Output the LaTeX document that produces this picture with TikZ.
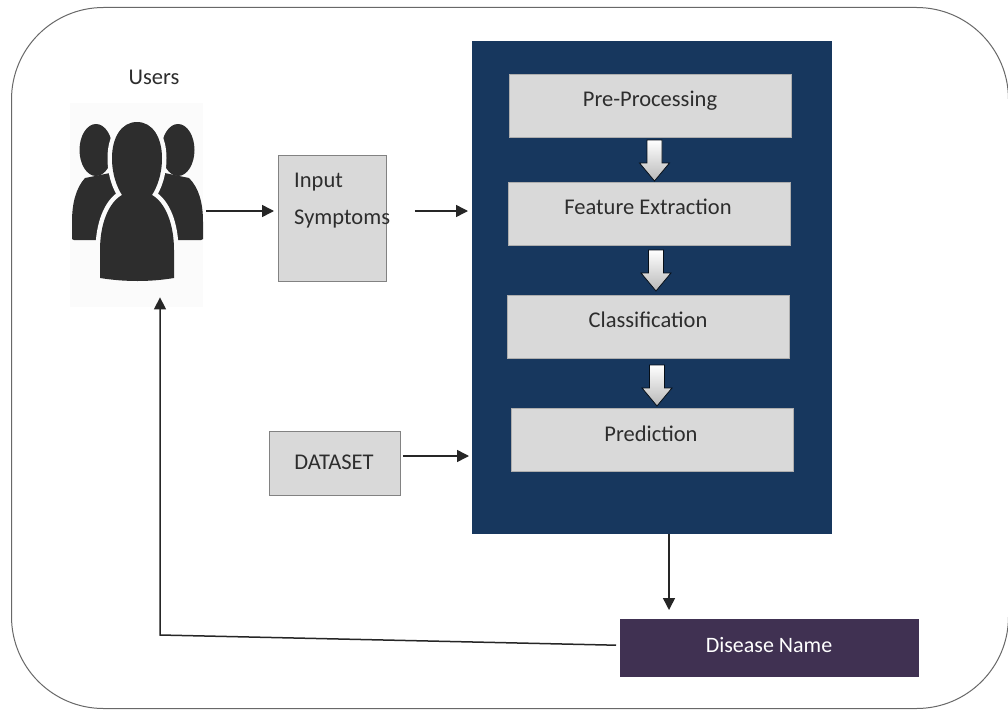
\documentclass[tikz,border=0pt]{standalone}
\usepackage{fontspec}
\setmainfont{Carlito}
\usetikzlibrary{arrows.meta}
\definecolor{navy}{RGB}{23,55,94}
\definecolor{boxgray}{RGB}{217,217,217}
\definecolor{plum}{RGB}{64,49,82}
\definecolor{ink}{RGB}{45,45,45}
\definecolor{edge}{RGB}{130,130,130}
\newcommand{\downarrowshape}[2]{\path[draw=black!75!navy,line width=.8pt,top color=white,bottom color=boxgray!85!black]
  (#1-7.5,#2) -- (#1+7.5,#2) -- (#1+7.5,#2+23) -- (#1+15,#2+23) -- (#1,#2+41) -- (#1-15,#2+23) -- (#1-7.5,#2+23) -- cycle;}
\tikzset{
  stagebox/.style={rectangle,fill=boxgray,draw=boxgray!80!black,line width=.5pt,minimum width=282pt,minimum height=63pt,inner sep=0pt},
  sidebox/.style={rectangle,fill=boxgray,draw=edge,line width=.8pt,inner sep=0pt},
  txt/.style={inner sep=0pt,font=\fontsize{22.5}{26}\selectfont,text=ink},
  conn/.style={draw=black!85,line width=1.5pt,-{Triangle[length=12pt,width=12pt]}},
  person/.style={fill=ink,draw=none}
}
\begin{document}
\begin{tikzpicture}[x=1pt,y=-1pt]
\useasboundingbox (0,0) rectangle (1008,709);
\fill[white] (0,0) rectangle (1008,709);
\node[draw=edge!80!black,line width=1pt,rounded corners=92pt,minimum width=997pt,minimum height=701pt,inner sep=0pt,anchor=north west] (frame) at (11,7) {};
\node[txt] (userslabel) at (154,77) {Users};
% icon
\node[fill=black!1.5,minimum width=133pt,minimum height=204pt,inner sep=0pt,anchor=north west] (users) at (70,103) {};
\fill[person] (96,150) ellipse (16.5 and 26);
\fill[person] (178,150) ellipse (16.5 and 26);
\fill[person] (72,239) -- (72,222) .. controls (72,203) and (76,188) .. (85,178) -- (125,170) -- (125,240) -- (74,240) -- cycle;
\fill[person] (203,239) -- (203,222) .. controls (203,203) and (199,188) .. (189,178) -- (150,170) -- (150,240) -- (201,240) -- cycle;
\path[fill=ink,draw=black!1.5,line width=9pt,line join=round]
  (137,122) .. controls (121,122) and (112,138) .. (112,158)
  .. controls (112,175) and (117,187) .. (122,195)
  .. controls (108,203) and (100,225) .. (100,250)
  -- (100,278) .. controls (125,282) and (150,282) .. (174,278)
  -- (174,250) .. controls (174,225) and (166,203) .. (152,195)
  .. controls (157,187) and (162,175) .. (162,158)
  .. controls (162,138) and (153,122) .. (137,122) -- cycle;
\path[fill=ink]
  (137,122) .. controls (121,122) and (112,138) .. (112,158)
  .. controls (112,175) and (117,187) .. (122,195)
  .. controls (108,203) and (100,225) .. (100,250)
  -- (100,278) .. controls (125,282) and (150,282) .. (174,278)
  -- (174,250) .. controls (174,225) and (166,203) .. (152,195)
  .. controls (157,187) and (162,175) .. (162,158)
  .. controls (162,138) and (153,122) .. (137,122) -- cycle;
% boxes
\node[sidebox,minimum width=108pt,minimum height=126pt,anchor=north west] (input) at (278,155) {};
\node[txt,anchor=west] (inputone) at (294,182) {Input};
\node[txt,anchor=west] (inputtwo) at (294,219) {Symptoms};
\node[sidebox,minimum width=131pt,minimum height=64pt,anchor=north west] (dataset) at (269,431) {};
\node[txt] (datasetlabel) at (334,462) {DATASET};
\node[fill=navy,minimum width=360pt,minimum height=493pt,inner sep=0pt,anchor=north west] (panel) at (472,41) {};
\node[stagebox,anchor=north west] (pre) at (509,74) {};
\node[stagebox,anchor=north west] (feat) at (508,182) {};
\node[stagebox,anchor=north west] (cls) at (507,295) {};
\node[stagebox,anchor=north west] (pred) at (511,408) {};
\node[txt] (pretext) at (650,101) {Pre-Processing};
\node[txt] (feattext) at (648,207) {Feature Extraction};
\node[txt] (clstext) at (648,320) {Classification};
\node[txt] (predtext) at (651,434) {Prediction};
\downarrowshape{654.5}{140}
\downarrowshape{656}{250}
\downarrowshape{657}{365}
\node[fill=plum,minimum width=299pt,minimum height=58pt,inner sep=0pt,anchor=north west] (disease) at (620,619) {};
\node[txt,text=white,font=\fontsize{22}{26}\selectfont] (diseasetext) at (769,645) {Disease Name};
% connectors
\coordinate (bend) at (160,635);
\draw[conn] ([xshift=3pt]users.east |- 0,211) -- ([xshift=-4pt]input.west |- 0,211);
\draw[conn] ([xshift=28pt]input.east |- 0,211) -- ([xshift=-4pt]panel.west |- 0,211);
\draw[conn] ([xshift=2pt]dataset.east |- 0,456) -- ([xshift=-3pt]panel.west |- 0,456);
\draw[conn] (panel.south -| 669,0) -- ([yshift=9pt]disease.north -| 669,0);
\draw[conn] ([xshift=-4pt,yshift=3pt]disease.west) -- (bend) -- ([yshift=10pt]users.south -| bend);
\end{tikzpicture}
\end{document}
